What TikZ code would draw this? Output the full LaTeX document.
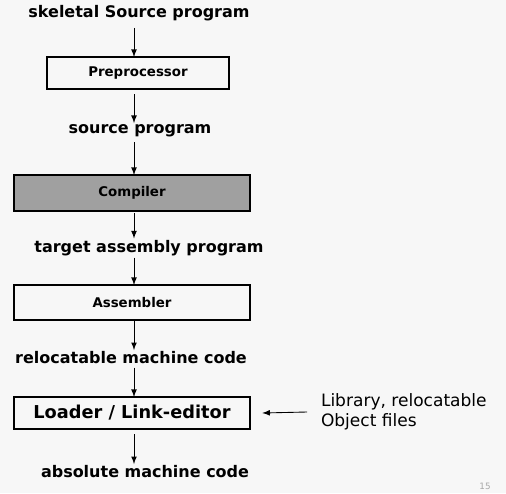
\documentclass[tikz,border=0pt]{standalone}
\usepackage{fontspec}
\setmainfont{DejaVu Sans}
\definecolor{bg}{HTML}{F7F7F7}
\definecolor{shade}{HTML}{A0A0A0}
\definecolor{pagegrey}{HTML}{A8A8A8}
\usetikzlibrary{arrows}
\tikzstyle{base}=[x=0.02cm, y=-0.02cm, inner sep=0pt, outer sep=0pt]
\tikzstyle{label}=[font=\bfseries\fontsize{9.1}{11}\selectfont]
\tikzstyle{stage}=[draw, line width=0.8pt, font=\bfseries\fontsize{7.6}{9}\selectfont]
\tikzstyle{flow}=[-latex, line width=0.5pt]

\begin{document}
\begin{tikzpicture}[base]
    \fill [bg] (0,0) rectangle (506,493);
    \path [use as bounding box] (0,0) rectangle (506,493);
        \node [label] (skel) at (139,13) {skeletal Source program};
        \node [stage, minimum width=3.64cm, minimum height=0.64cm] (pre) at (138,73) {Preprocessor};
        \node [label] (src) at (140,131) {source program};
        \node [stage, fill=shade, minimum width=4.72cm, minimum height=0.72cm] (comp) at (132,193) {Compiler};
        \node [label] (tgt) at (149,248) {target assembly program};
        \node [stage, minimum width=4.72cm, minimum height=0.70cm] (asm) at (132,302.5) {Assembler};
        \node [label] (reloc) at (131,358) {relocatable machine code};
        \node [stage, minimum width=4.72cm, minimum height=0.64cm, font=\bfseries\fontsize{10.1}{12}\selectfont] (load) at (132,413) {Loader / Link-editor};
        \node [font=\fontsize{9.7}{11.5}\selectfont, align=left, anchor=west] (lib) at (321,412) {Library, relocatable\\Object files};
        \node [label] (abs) at (145,472) {absolute machine code};
        \node [pagegrey, font=\fontsize{5}{6}\selectfont] (page) at (485,486) {15};
        \coordinate (ax) at (134,0);
        \coordinate (libend) at (307,412);
        \draw [flow, shorten <=4pt] (skel.south -| ax) -- (pre.north -| ax);
        \draw [flow, shorten <=3pt, shorten >=1pt] (pre.south -| ax) -- (src.north -| ax);
        \draw [flow, shorten <=3pt] (src.south -| ax) -- (comp.north -| ax);
        \draw [flow, shorten <=1pt, shorten >=1pt] (comp.south -| ax) -- (tgt.north -| ax);
        \draw [flow, shorten <=1pt] (tgt.south -| ax) -- (asm.north -| ax);
        \draw [flow, shorten >=1pt] (asm.south -| ax) -- (reloc.north -| ax);
        \draw [flow, shorten <=2pt] (reloc.south -| ax) -- (load.north -| ax);
        \draw [flow, shorten <=3pt, shorten >=1pt] (load.south -| ax) -- (abs.north -| ax);
        \draw [flow] (libend) -- ([xshift=7pt]load.east);
    \end{tikzpicture}
\end{document}
